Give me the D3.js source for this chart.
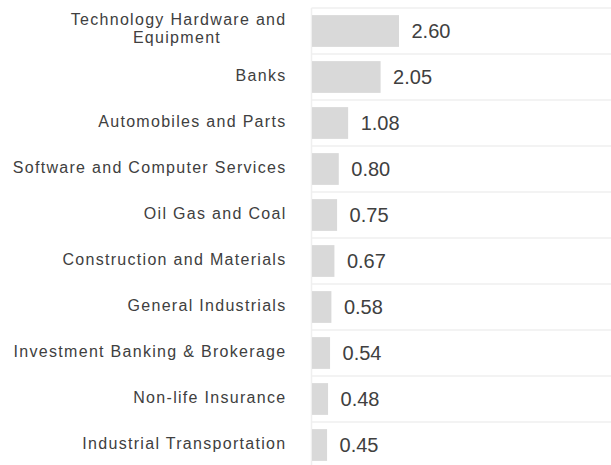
<!DOCTYPE html>
<html>
<head>
<meta charset="utf-8">
<style>
body { margin: 0; background: #fff; }
text { font-family: "Liberation Sans", Arial, sans-serif; }
.cat { fill: #404040; font-size: 16px; letter-spacing: 1.3px; }
.val { fill: #404040; font-size: 20px; }
.grid { stroke: #efefef; stroke-width: 1.5px; }
</style>
</head>
<body>
<script src="https://cdn.jsdelivr.net/npm/d3@7"></script>
<script>

var categories = ["Technology Hardware and Equipment", "Banks", "Automobiles and Parts",
  "Software and Computer Services", "Oil Gas and Coal", "Construction and Materials",
  "General Industrials", "Investment Banking & Brokerage", "Non-life Insurance",
  "Industrial Transportation"];
var values = [2.60, 2.05, 1.08, 0.80, 0.75, 0.67, 0.58, 0.54, 0.48, 0.45];
var labels = ["2.60", "2.05", "1.08", "0.80", "0.75", "0.67", "0.58", "0.54", "0.48", "0.45"];

var width = 611, height = 465;
var marginLeft = 311.5, marginTop = 8;
var labelX = 286.5;

var svg = d3.select("body").append("svg")
    .attr("width", width)
    .attr("height", height);

var x = d3.scaleLinear()
    .domain([0, 2.6])
    .range([marginLeft, marginLeft + 87]);

var y = d3.scaleBand()
    .domain(categories)
    .range([marginTop, marginTop + 46 * categories.length])
    .paddingInner(0.31)
    .paddingOuter(0.155);

// row separators
var step = y.step();
svg.append("g")
  .selectAll("line")
  .data(d3.range(categories.length))
  .enter().append("line")
    .attr("class", "grid")
    .attr("x1", marginLeft)
    .attr("x2", width)
    .attr("y1", function(i) { return marginTop + i * step; })
    .attr("y2", function(i) { return marginTop + i * step; });

svg.append("line")
    .attr("class", "grid")
    .attr("x1", marginLeft).attr("x2", marginLeft)
    .attr("y1", marginTop).attr("y2", height);

// bars
svg.append("g")
  .selectAll("rect")
  .data(values)
  .enter().append("rect")
    .attr("x", x(0) + 0.5)
    .attr("y", function(d, i) { return y(categories[i]); })
    .attr("width", function(d) { return x(d) - x(0); })
    .attr("height", y.bandwidth())
    .style("fill", "#d9d9d9");

// value labels
svg.append("g")
  .selectAll("text")
  .data(values)
  .enter().append("text")
    .attr("class", "val")
    .attr("x", function(d) { return x(d) + 13; })
    .attr("y", function(d, i) { return y(categories[i]) + y.bandwidth() / 2; })
    .attr("dy", "0.36em")
    .text(function(d, i) { return labels[i]; });

// category labels, wrap the long first one
var cat = svg.append("g")
  .selectAll("text")
  .data(categories)
  .enter().append("text")
    .attr("class", "cat")
    .attr("text-anchor", "end")
    .attr("x", labelX)
    .attr("y", function(d) { return y(d) + y.bandwidth() / 2; })
    .attr("dy", "0.25em");

cat.each(function(d) {
  var t = d3.select(this);
  if (d === "Technology Hardware and Equipment") {
    t.attr("dy", null);
    t.append("tspan").attr("x", labelX).attr("dy", -6).text("Technology Hardware and");
    t.append("tspan").attr("x", 177).attr("dy", 18).attr("text-anchor", "middle").text("Equipment");
  } else {
    t.text(d);
  }
});

</script>
</body>
</html>
